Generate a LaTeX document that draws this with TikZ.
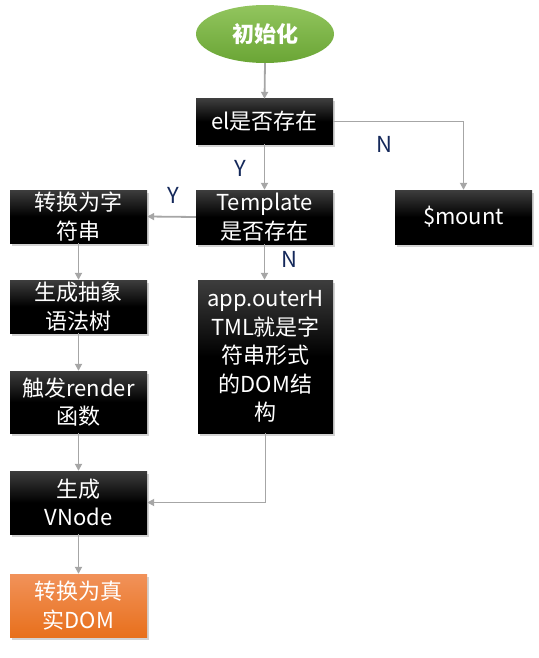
\documentclass[tikz,border=0pt]{standalone}
\usepackage{fontspec}
\setmainfont{Noto Sans CJK SC}
\usetikzlibrary{arrows.meta,shapes.geometric,shadows}
\definecolor{conn}{HTML}{A6A6A6}
\definecolor{lbl}{HTML}{14285A}
\definecolor{gtop}{HTML}{92C55E}
\definecolor{gbot}{HTML}{6AA535}
\definecolor{otop}{HTML}{F1925A}
\definecolor{obot}{HTML}{E8701C}
\tikzset{
  blackbox/.style={rectangle, inner sep=0pt, minimum width=137pt, align=center,
    text=white, font=\fontsize{22}{28.5}\selectfont,
    top color=black!76, bottom color=black, middle color=black,
    drop shadow={opacity=0.35, shadow xshift=2pt, shadow yshift=-2.5pt}},
  orangebox/.style={blackbox, top color=otop, bottom color=obot, middle color=otop!50!obot},
  startnode/.style={ellipse, inner sep=0pt, minimum width=138pt, minimum height=58pt,
    text=white, font=\fontsize{22}{26}\selectfont\bfseries,
    top color=gtop, bottom color=gbot},
  conline/.style={draw=conn, line width=1.8pt, -{Triangle[length=7pt,width=7pt]}},
  yn/.style={text=lbl, font=\fontsize{22}{26}\selectfont, inner sep=0pt}
}
\begin{document}
\begin{tikzpicture}[x=1pt,y=1pt]
\useasboundingbox (0,0) rectangle (538,-658);
\node[startnode] (init) at (265,-34) {初始化};
\node[blackbox, minimum height=45pt] (el) at (264.5,-121.5) {el是否存在};
\node[blackbox, minimum height=54pt] (tpl) at (264.5,-217) {Template\\是否存在};
\node[blackbox, minimum height=54pt] (mount) at (463.5,-217) {\$mount};
\node[blackbox, minimum height=53pt] (str) at (78.5,-216.5) {转换为字\\符串};
\node[blackbox, minimum height=53pt] (ast) at (78.5,-306.5) {生成抽象\\语法树};
\node[blackbox, minimum height=62pt] (render) at (78.5,-402) {触发render\\函数};
\node[blackbox, minimum width=135pt, minimum height=153pt] (app) at (265.5,-356.5) {app.outerH\\TML就是字\\符串形式\\的DOM结\\构};
\node[blackbox, minimum height=63pt] (vnode) at (78.5,-502.5) {生成\\VNode};
\node[orangebox, minimum height=63pt] (dom) at (78.5,-605.5) {转换为真\\实DOM};

\draw[conline] (init.south) -- (el.north);
\draw[conline] (el.south) -- (tpl.north);
\draw[conline] (el.east) -| (mount.north);
\draw[conline] (tpl.west) -- (str.east);
\draw[conline] (tpl.south) -- (tpl.south |- app.north);
\draw[conline] (str.south) -- (ast.north);
\draw[conline] (ast.south) -- (render.north);
\draw[conline] (render.south) -- (vnode.north);
\draw[conline] (app.south) |- (vnode.east);
\draw[conline] (vnode.south) -- (dom.north);

\node[yn] (y1) at (240,-168) {Y};
\node[yn] (n1) at (384,-144) {N};
\node[yn] (y2) at (173,-195) {Y};
\node[yn] (n2) at (289,-259) {N};
\end{tikzpicture}
\end{document}
